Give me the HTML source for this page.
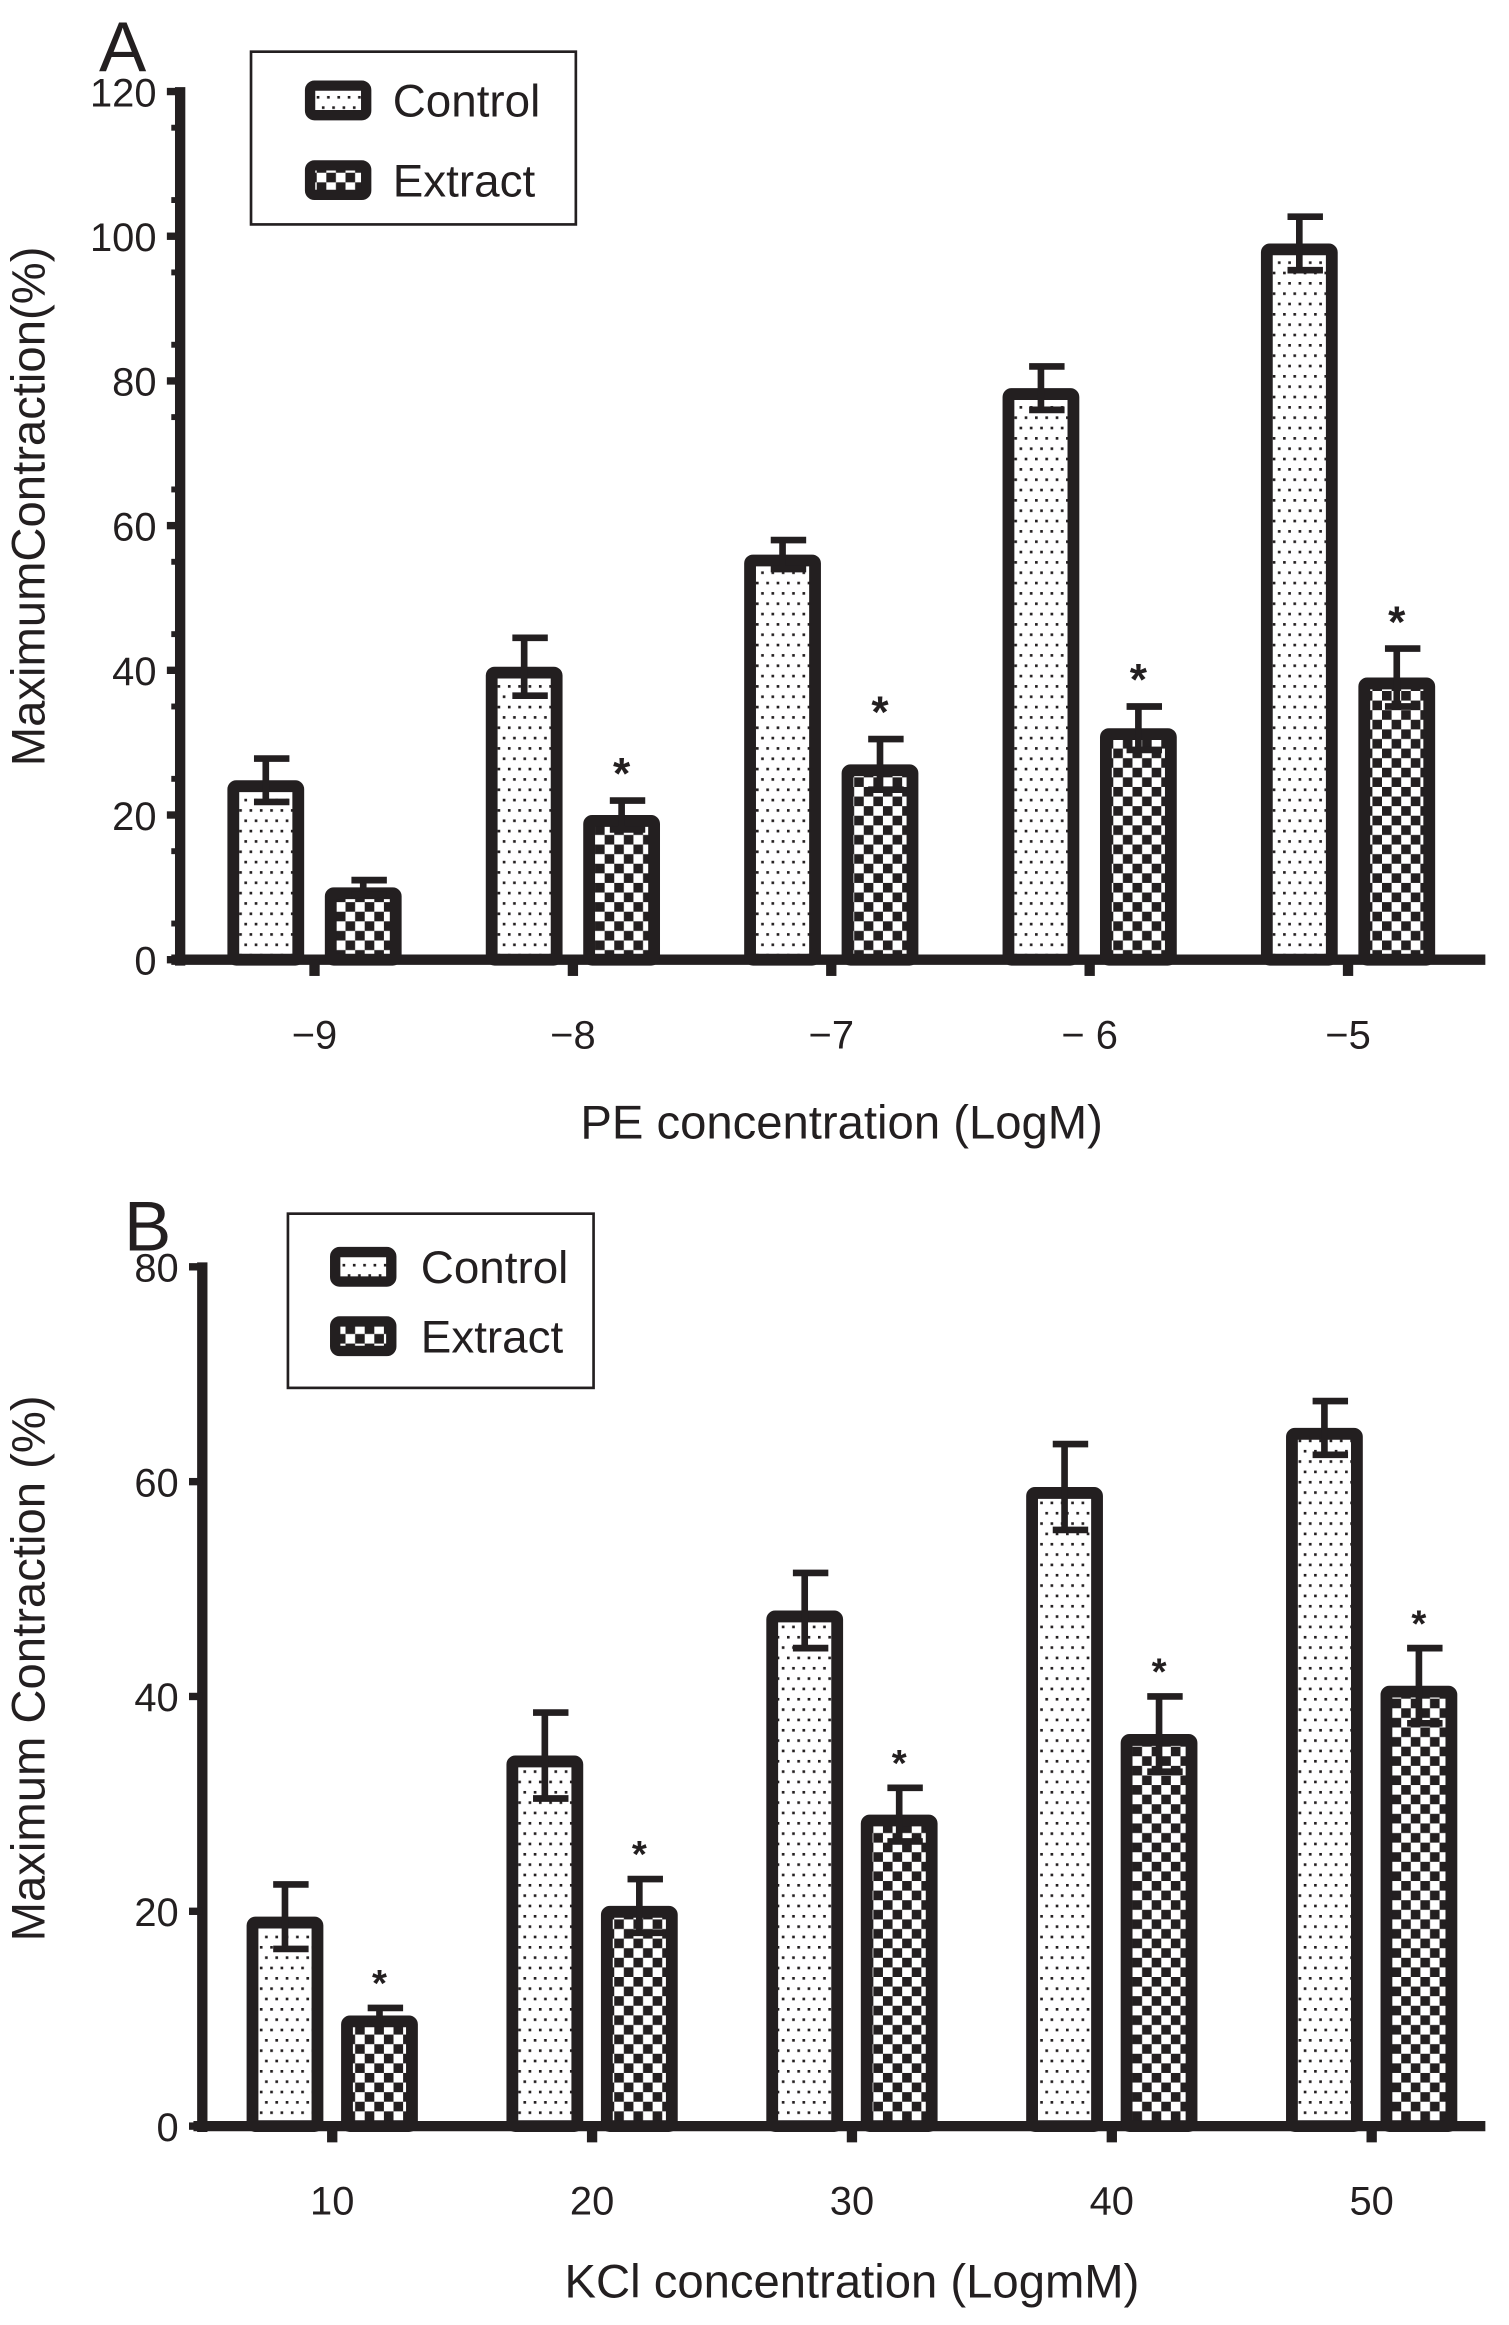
<!DOCTYPE html>
<html><head><meta charset="utf-8"><style>
html,body{margin:0;padding:0;background:#fff}
svg{display:block}
text{font-family:"Liberation Sans",sans-serif;fill:#231f20}
</style></head><body>
<svg id="fig" width="1509" height="2325" viewBox="0 0 1022 1574.7" xmlns="http://www.w3.org/2000/svg">
<defs>
<pattern id="dots" width="7" height="14" patternUnits="userSpaceOnUse">
<rect width="7" height="14" fill="#fff"/>
<rect x="1" y="2" width="1.8" height="1.8" fill="#231f20"/>
<rect x="4.5" y="9" width="1.8" height="1.8" fill="#231f20"/>
</pattern>
<pattern id="check" width="13" height="13" patternUnits="userSpaceOnUse">
<rect width="13" height="13" fill="#fff"/>
<rect width="6.5" height="6.5" fill="#231f20"/>
<rect x="6.5" y="6.5" width="6.5" height="6.5" fill="#231f20"/>
</pattern>
</defs>
<g id="chartA"></g>
<g id="chartB"></g>
</svg>
<script>
const catsA = ['−9','−8','−7','− 6','−5'];
const ctrlA = [24.8, 40.5, 56, 79, 99];
const ctrlErrA = [3, 4, 2, 3, 3.7];
const extA = [10, 20, 27, 32, 39];
const extErrA = [1, 2, 3.5, 3, 4];
const sigA = [false, true, true, true, true];
const yTicksA = [0, 20, 40, 60, 80, 100, 120];

const catsB = ['10','20','30','40','50'];
const ctrlB = [19.5, 34.5, 48, 59.5, 65];
const ctrlErrB = [3, 4, 3.5, 4, 2.5];
const extB = [10.3, 20.5, 29, 36.5, 41];
const extErrB = [0.7, 2.5, 2.5, 3.5, 3.5];
const sigB = [true, true, true, true, true];
const yTicksB = [0, 20, 40, 60, 80];

const NS = 'http://www.w3.org/2000/svg';
function mk(parent, tag, attrs, txt){
  const e = document.createElementNS(NS, tag);
  for (const k in attrs) e.setAttribute(k, attrs[k]);
  if (txt !== undefined) e.textContent = txt;
  parent.appendChild(e);
  return e;
}
const INK = '#231f20';

function drawChart(g, cfg){
  const yS = v => cfg.y0 - (v / cfg.yMax) * (cfg.y0 - cfg.yTop);
  const xS = i => cfg.x0c + i * cfg.step;
  const pl = mk(g, 'text', {x: cfg.letterX, y: cfg.letterY, 'font-size': 48});
  pl.textContent = cfg.letter;
  
  
  const ya = mk(g, 'line', {x1: cfg.ax, y1: yS(cfg.yMax) - 3, x2: cfg.ax, y2: cfg.y0 + 4, stroke: INK, 'stroke-width': 7});
  
  
  cfg.yTicks.forEach(t => {
    const tk = mk(g, 'line', {x1: cfg.ax - 9, y1: yS(t), x2: cfg.ax, y2: yS(t), stroke: INK, 'stroke-width': 5});
    
    
    const tl = mk(g, 'text', {x: cfg.ax - 16, y: yS(t) + 10, 'font-size': 27, 'text-anchor': 'end'}, String(t));
    
    
  });
  if (cfg.minor) {
    for (let v = 5; v < cfg.yMax; v += 10) {
      const mt = mk(g, 'line', {x1: cfg.ax - 6, y1: yS(v), x2: cfg.ax, y2: yS(v), stroke: INK, 'stroke-width': 4});
      
      
    }
  }
  const xa = mk(g, 'line', {x1: cfg.ax - 6, y1: cfg.y0, x2: 1006, y2: cfg.y0, stroke: INK, 'stroke-width': 7});
  
  
  cfg.cats.forEach((c, i) => {
    const x = xS(i);
    const tk = mk(g, 'line', {x1: x, y1: cfg.y0, x2: x, y2: cfg.y0 + 11, stroke: INK, 'stroke-width': 7});
    
    
    const tl = mk(g, 'text', {x: x, y: cfg.y0 + cfg.tickDy, 'font-size': 27, 'text-anchor': 'middle'}, c);
    
    
    const series = [
      {v: cfg.ctrl[i], e: cfg.ctrlErr[i], fill: 'url(#dots)', dx: -cfg.off, name: 'control-bar'},
      {v: cfg.ext[i], e: cfg.extErr[i], fill: 'url(#check)', dx: cfg.off, name: 'extract-bar'}
    ];
    series.forEach((s, si) => {
      const cx = x + s.dx, w = cfg.bw, top = yS(s.v);
      const r = mk(g, 'rect', {x: cx - w/2 + 4, y: top + 4, width: w - 8, height: cfg.y0 - top - 4, fill: s.fill, stroke: INK, 'stroke-width': 8, rx: 2});
      
      
      const hi = yS(s.v + s.e), lo = yS(s.v - s.e);
      const eb = mk(g, 'path', {d: `M${cx} ${hi} V${lo} M${cx-8} ${hi} H${cx+16} M${cx-8} ${lo} H${cx+16}`, stroke: INK, 'stroke-width': 4.5, fill: 'none'});
      
      
      if (si === 1 && cfg.sig[i]) {
        const st = mk(g, 'text', {x: cx, y: hi - 8, 'font-size': cfg.starSize, 'text-anchor': 'middle', 'font-weight': 'bold'}, '*');
        
        
      }
    });
  });
  const xt = mk(g, 'text', {x: cfg.xtX, y: cfg.y0 + cfg.xtDy, 'font-size': 32, 'text-anchor': 'middle'}, cfg.xTitle);
  
  
  const yt = mk(g, 'text', {x: 0, y: 0, 'font-size': 32, 'text-anchor': 'middle', transform: `translate(30 ${cfg.ytY}) rotate(-90)`}, cfg.yTitle);
  
  
  const L = cfg.leg;
  const lg = mk(g, 'g', {});
  
  
  mk(lg, 'rect', {x: L.x, y: L.y, width: L.w, height: L.h, fill: '#fff', stroke: INK, 'stroke-width': 1.8});
  [['Control', 'url(#dots)'], ['Extract', 'url(#check)']].forEach((it, k) => {
    const yy = L.y + L.r1 + k * L.gap;
    const e = mk(lg, 'g', {});
    
    
    mk(e, 'rect', {x: L.x + L.sx, y: yy - 10, width: 38, height: 20, fill: it[1], stroke: INK, 'stroke-width': 7, rx: 3});
    mk(e, 'text', {x: L.x + L.tx, y: yy + 11, 'font-size': 31}, it[0]);
  });
}

drawChart(document.getElementById('chartA'), {
  letter: 'A', letterX: 67, letterY: 48,
  ax: 122, y0: 650, yTop: 62, yMax: 120, yTicks: yTicksA, minor: true,
  x0c: 213, step: 175, off: 33, bw: 52, tickDy: 60, xtDy: 121,
  cats: catsA, ctrl: ctrlA, ctrlErr: ctrlErrA, ext: extA, extErr: extErrA, sig: sigA,
  starSize: 30, xTitle: 'PE concentration (LogM)', xtX: 570, yTitle: 'MaximumContraction(%)', ytY: 343,
  leg: {x: 170, y: 35, w: 220, h: 117, r1: 33, gap: 54, sx: 40, tx: 96}
});
drawChart(document.getElementById('chartB'), {
  letter: 'B', letterX: 84, letterY: 847,
  ax: 137, y0: 1440, yTop: 858, yMax: 80, yTicks: yTicksB, minor: false,
  x0c: 225, step: 176, off: 32, bw: 52, tickDy: 60, xtDy: 116,
  cats: catsB, ctrl: ctrlB, ctrlErr: ctrlErrB, ext: extB, extErr: extErrB, sig: sigB,
  starSize: 26, xTitle: 'KCl concentration (LogmM)', xtX: 577, yTitle: 'Maximum Contraction (%)', ytY: 1130,
  leg: {x: 195, y: 822, w: 207, h: 118, r1: 36, gap: 47, sx: 32, tx: 90}
});
</script>
</body></html>
